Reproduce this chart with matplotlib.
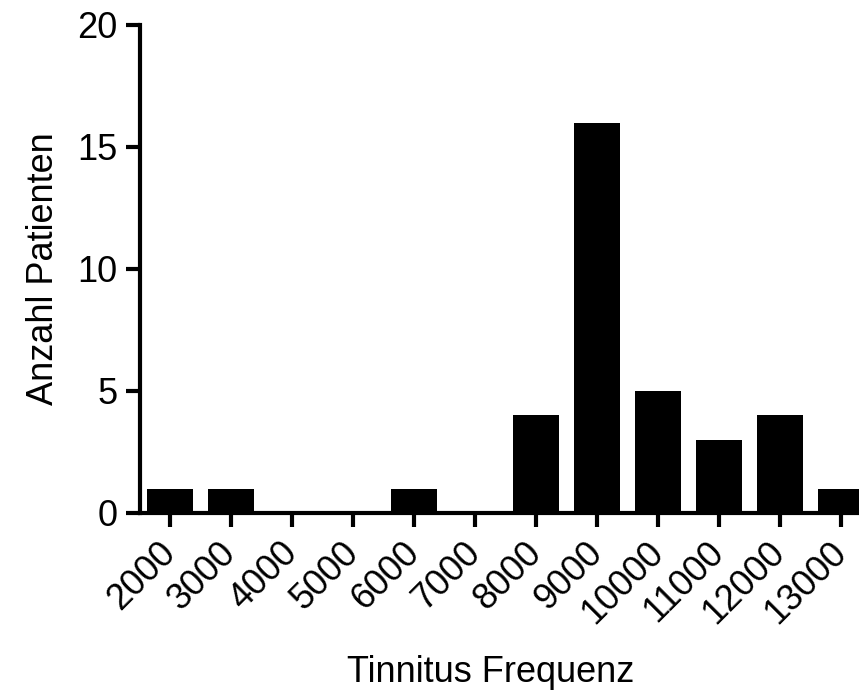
import matplotlib
matplotlib.use("Agg")
import matplotlib.pyplot as plt
import numpy as np

plt.rcParams['font.family'] = ['Liberation Sans', 'DejaVu Sans']

frequencies = ['2000', '3000', '4000', '5000', '6000', '7000',
               '8000', '9000', '10000', '11000', '12000', '13000']
patients = [1, 1, 0, 0, 1, 0, 4, 16, 5, 3, 4, 1]

fig = plt.figure(figsize=(8.59, 6.97), dpi=100)
ax = fig.add_axes([140/859, 184/697, 1 - 140/859, 488/697])

x = np.arange(len(frequencies))
ax.bar(x, patients, width=0.76, color='black', edgecolor='black', linewidth=0)

ax.set_xlim(-30/61, (859-170)/61)
ax.set_ylim(0, 20)
ax.set_yticks([0, 5, 10, 15, 20])
ax.set_xticks(x)
ax.set_xticklabels(frequencies, rotation=45, ha='right', va='center',
                   rotation_mode='anchor')

for s in ['top', 'right']:
    ax.spines[s].set_visible(False)
for s in ['left', 'bottom']:
    ax.spines[s].set_linewidth(3)

ax.tick_params(axis='both', width=3, length=10, labelsize=26, color='black')
ax.tick_params(axis='y', pad=6)
ax.tick_params(axis='x', pad=15)

ax.set_ylabel('Anzahl Patienten', fontsize=26, labelpad=12)
fig.text(491/859, 1 - 672/697, 'Tinnitus Frequenz', fontsize=26,
         ha='center', va='center')

fig.savefig('out.png', dpi=100)
